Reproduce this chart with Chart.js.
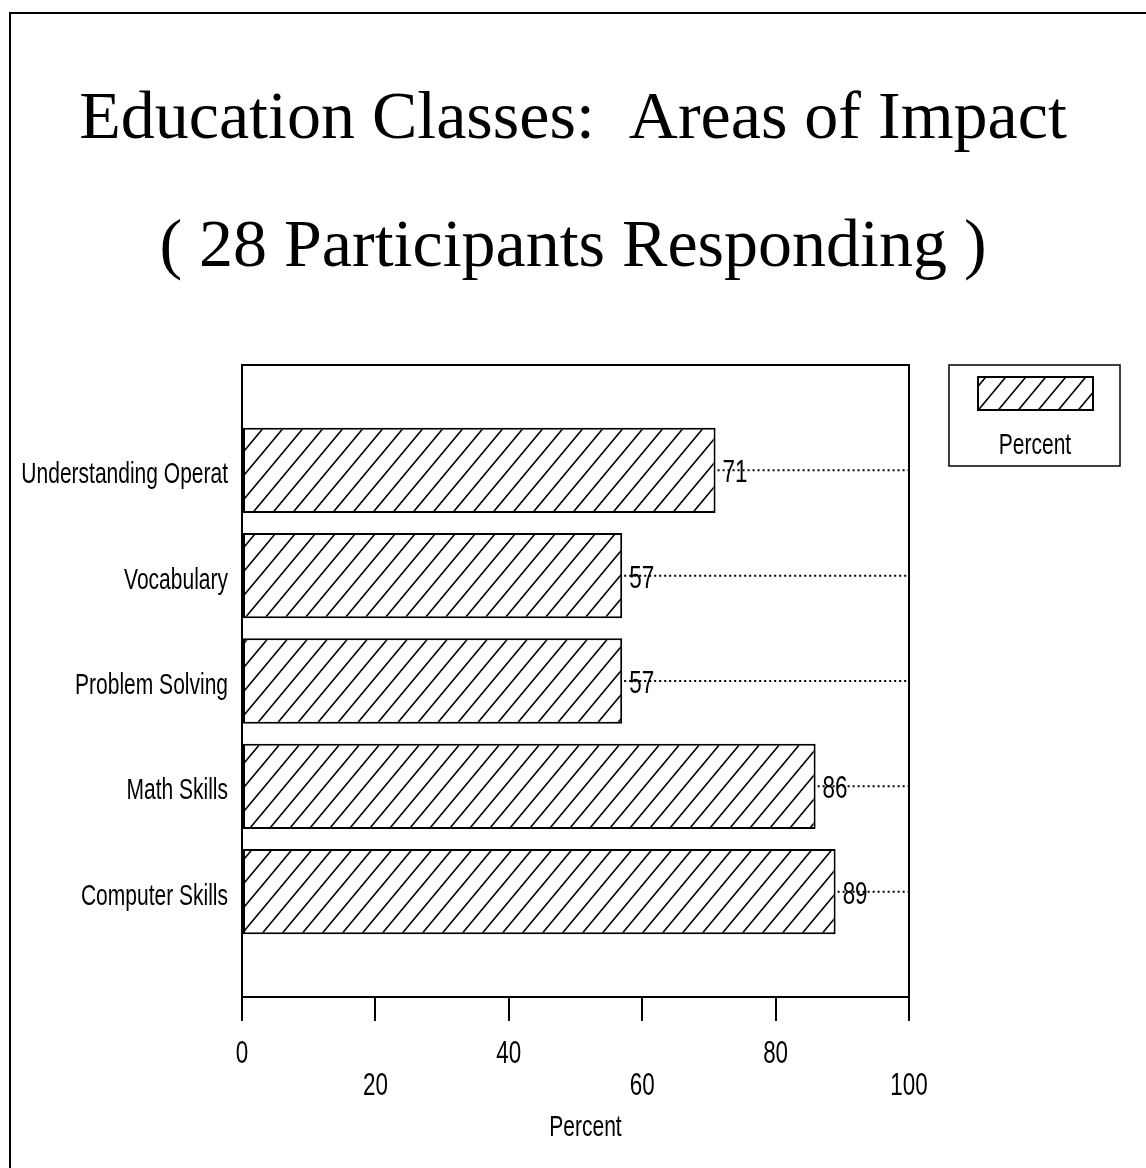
<!DOCTYPE html>
<html>
<head>
<meta charset="utf-8">
<script src="https://cdn.jsdelivr.net/npm/chart.js@4/dist/chart.umd.min.js"></script>
<style>
  body { margin: 0; background: #fff; }
  #wrap { width: 1146px; height: 1168px; }
</style>
</head>
<body>
<div id="wrap"><canvas id="impact-chart" width="1146" height="1168"></canvas></div>
<script>
const titleLines = ['Education Classes:  Areas of Impact', '( 28 Participants Responding )'];
const categories = ['Understanding Operat', 'Vocabulary', 'Problem Solving', 'Math Skills', 'Computer Skills'];
const percentValues = [71, 57, 57, 86, 89];
const xTickValues = [0, 20, 40, 60, 80, 100];
const seriesName = 'Percent';

const sans = "'Liberation Sans', Arial, sans-serif";

// the old plotter font is tall and narrow, so squeeze it sideways
function squeezeText(ctx, text, x, y, size, align) {
    ctx.save();
    ctx.fillStyle = '#000';
    ctx.font = size + 'px ' + sans;
    ctx.textAlign = align;
    ctx.textBaseline = 'alphabetic';
    ctx.translate(x, y);
    ctx.scale(0.7, 1);
    ctx.fillText(text, 0, 0);
    ctx.restore();
}

function hatch() {
    const w = 20, h = 24;
    const c = document.createElement('canvas');
    c.width = w; c.height = h;
    const g = c.getContext('2d');
    g.fillStyle = '#fff';
    g.fillRect(0, 0, w, h);
    g.strokeStyle = '#000';
    g.lineWidth = 1.6;
    g.beginPath();
    [-w, 0, w].forEach(dx => {
        g.moveTo(dx - w, 2 * h);
        g.lineTo(dx + 2 * w, -h);
    });
    g.stroke();
    return g.createPattern(c, 'repeat');
}
const pattern = hatch();

// empty slot above and below, like the original plot
const yLabels = [''].concat(categories, ['']);
const barData = [null].concat(percentValues, [null]);

const pagePlugin = {
    id: 'page',
    beforeDraw(chart) {
        const ctx = chart.ctx;
        ctx.save();
        ctx.fillStyle = '#fff';
        ctx.fillRect(0, 0, chart.width, chart.height);
        ctx.strokeStyle = '#000';
        ctx.lineWidth = 2;
        ctx.beginPath();
        ctx.moveTo(chart.width, 13);
        ctx.lineTo(10, 13);
        ctx.lineTo(10, chart.height);
        ctx.stroke();
        ctx.restore();
    },
    afterDatasetsDraw(chart) {
        const ctx = chart.ctx;
        const area = chart.chartArea;
        const xScale = chart.scales.x;
        const yScale = chart.scales.y;
        const meta = chart.getDatasetMeta(0);
        ctx.save();

        // dotted leaders + value labels
        meta.data.forEach((bar, i) => {
            const v = barData[i];
            if (v === null) return;
            ctx.strokeStyle = '#000';
            ctx.lineWidth = 2;
            ctx.setLineDash([2, 3]);
            ctx.beginPath();
            ctx.moveTo(bar.x + 2, bar.y);
            ctx.lineTo(area.right, bar.y);
            ctx.stroke();
            ctx.setLineDash([]);
            squeezeText(ctx, String(v), bar.x + 7, bar.y + 12, 32, 'left');
        });

        // plot frame
        ctx.strokeStyle = '#000';
        ctx.lineWidth = 2;
        ctx.strokeRect(area.left, area.top, area.right - area.left, area.bottom - area.top);

        // category labels
        categories.forEach((name, i) => {
            squeezeText(ctx, name, area.left - 14, yScale.getPixelForValue(i + 1) + 13, 30, 'right');
        });

        // x tick labels in two staggered rows
        xTickValues.forEach((v, i) => {
            const row = i % 2 ? 1095 - 997 : 1063 - 997;
            squeezeText(ctx, String(v), xScale.getPixelForValue(v), area.bottom + row, 32, 'center');
        });
        squeezeText(ctx, seriesName, (area.left + area.right) / 2 + 10, area.bottom + 139, 30, 'center');

        // legend box
        const lx = area.right + 40, ly = area.top;
        ctx.strokeStyle = '#000';
        ctx.lineWidth = 1.5;
        ctx.strokeRect(lx, ly, 171, 101);
        ctx.fillStyle = pattern;
        ctx.fillRect(lx + 29, ly + 12, 115, 33);
        ctx.lineWidth = 2;
        ctx.strokeRect(lx + 29, ly + 12, 115, 33);
        squeezeText(ctx, seriesName, lx + 86, ly + 89, 30, 'center');
        ctx.restore();
    }
};

Chart.defaults.color = '#000';

new Chart(document.getElementById('impact-chart'), {
    type: 'bar',
    data: {
        labels: yLabels,
        datasets: [{
            label: seriesName,
            data: barData,
            backgroundColor: pattern,
            borderColor: '#000',
            borderWidth: 2,
            borderSkipped: false,
            categoryPercentage: 1,
            barPercentage: 0.81
        }]
    },
    options: {
        indexAxis: 'y',
        responsive: false,
        animation: false,
        layout: { padding: 0 },
        plugins: {
            legend: { display: false },
            tooltip: { enabled: false },
            title: {
                display: true,
                text: titleLines,
                color: '#000',
                font: { family: "'Liberation Serif', 'DejaVu Serif', serif", size: 68, weight: 'normal', lineHeight: '128px' },
                padding: { top: 56, bottom: 53 }
            }
        },
        scales: {
            x: {
                type: 'linear',
                min: 0,
                max: 100,
                afterBuildTicks: (scale) => { scale.ticks = xTickValues.map(v => ({ value: v })); },
                afterFit: (scale) => { scale.height = 171; },
                grid: { display: true, drawOnChartArea: false, drawTicks: true, tickLength: 24, color: '#000', lineWidth: 2 },
                border: { display: true, color: '#000', width: 2 },
                ticks: { display: false }
            },
            y: {
                type: 'category',
                offset: false,
                afterFit: (scale) => { scale.width = 242; },
                grid: { display: false, drawTicks: false },
                border: { display: true, color: '#000', width: 2 },
                ticks: { display: false }
            },
            // empty space on the right that holds the legend box
            side: {
                type: 'category',
                position: 'right',
                afterFit: (scale) => { scale.width = 237; },
                grid: { display: false, drawTicks: false },
                border: { display: false },
                ticks: { display: false }
            }
        }
    },
    plugins: [pagePlugin]
});
</script>
</body>
</html>
